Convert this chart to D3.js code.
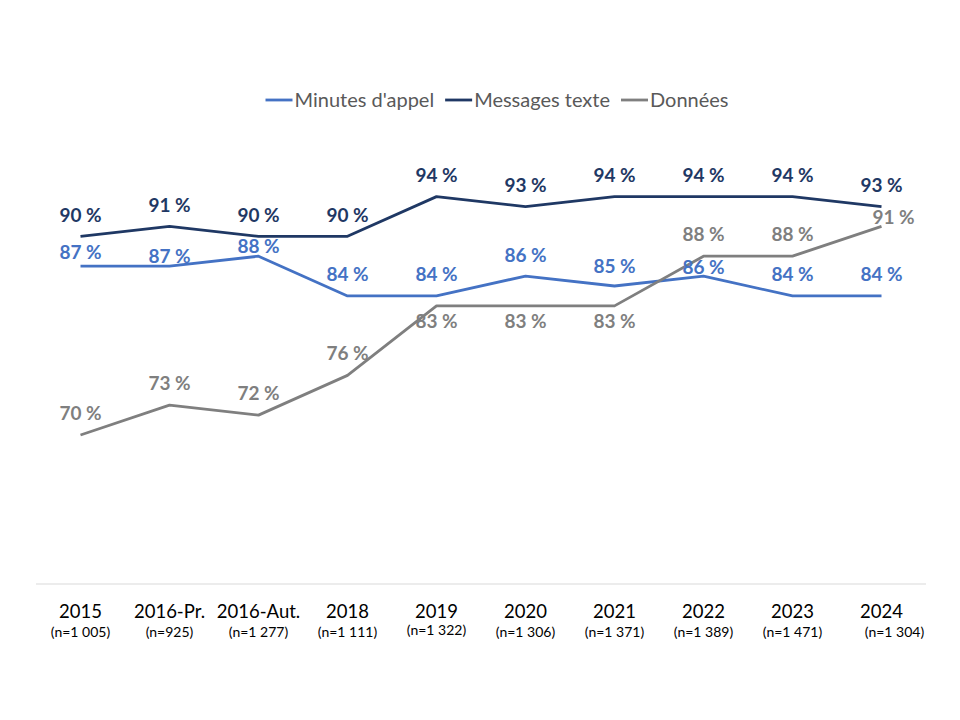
<!DOCTYPE html>
<html><head><meta charset="utf-8">
<script src="https://cdn.jsdelivr.net/npm/d3@7"></script>
<style>body{margin:0;background:#fff}svg{display:block}</style>
</head><body><svg id="c" width="960" height="720"></svg>
<script>
const categories = ["2015","2016-Pr.","2016-Aut.","2018","2019","2020","2021","2022","2023","2024"];
const sampleSizes = ["(n=1 005)","(n=925)","(n=1 277)","(n=1 111)","(n=1 322)","(n=1 306)","(n=1 371)","(n=1 389)","(n=1 471)","(n=1 304)"];
const minutesAppel = [87,87,88,84,84,86,85,86,84,84];
const messagesTexte = [90,91,90,90,94,93,94,94,94,93];
const donnees = [70,73,72,76,83,83,83,88,88,91];
const seriesNames = ["Minutes d'appel","Messages texte","Données"];

// label offsets (presentation only)
const minutesLabelDy = [-14,-10,-10,-22,-22,-21,-20,-9,-22,-22];
const donneesLabelDy = [-22,-22,-22,-22,15,15,15,-22,-22,-9];
const donneesLabelDx = [0,0,0,0,0,0,0,0,0,12];

const colors = ["#4472C4","#1F3864","#7F7F7F"];
const svg = d3.select("#c");
const font = "Lato, 'Open Sans', sans-serif";

const x = d3.scaleBand().domain(categories).range([36,926]);
const y = d3.scaleLinear().domain([55,100]).range([584,137]);
const cx = d => x(d) + x.bandwidth()/2;

// baseline
svg.append("line").attr("x1",36).attr("x2",926).attr("y1",y(55)).attr("y2",y(55))
  .attr("stroke","#D9D9D9").attr("stroke-width",1);

// x-axis labels
const xa = svg.append("g");
categories.forEach((c,i)=>{
  xa.append("text").attr("x",cx(c)).attr("y",618).attr("text-anchor","middle")
    .attr("font-family",font).attr("font-weight",400).attr("font-size",18.5).attr("fill","#000").text(c);
  const dx = i===9 ? 13 : 0;
  const dy = i===4 ? -2 : 0;
  xa.append("text").attr("x",cx(c)+dx).attr("y",637+dy).attr("text-anchor","middle")
    .attr("font-family",font).attr("font-weight",400).attr("font-size",14).attr("fill","#000").text(sampleSizes[i]);
});

const data = [minutesAppel, messagesTexte, donnees];
const line = d3.line().x((d,i)=>cx(categories[i])).y(d=>y(d));
data.forEach((vals,k)=>{
  svg.append("path").attr("d",line(vals)).attr("fill","none")
    .attr("stroke",colors[k]).attr("stroke-width",2.8).attr("stroke-linejoin","round");
});

function labels(vals,k,dys,dxs){
  svg.append("g").selectAll("text").data(vals).join("text")
    .attr("x",(d,i)=>cx(categories[i])+(dxs?dxs[i]:0))
    .attr("y",(d,i)=>y(d)+dys[i])
    .attr("dy","0.35em")
    .attr("text-anchor","middle").attr("font-family",font).attr("font-weight","bold")
    .attr("font-size",19).attr("fill",colors[k]).text(d=>d+" %");
}
labels(messagesTexte,1,messagesTexte.map(()=>-21));
labels(minutesAppel,0,minutesLabelDy);
labels(donnees,2,donneesLabelDy,donneesLabelDx);

// legend (laid out from measured text widths, centred)
const lg = svg.append("g");
const markerW = 27, markerGap = 2, itemGap = 11;
const items = seriesNames.map((n,k)=>{
  const g = lg.append("g");
  g.append("line").attr("x1",0).attr("x2",markerW).attr("y1",100).attr("y2",100)
    .attr("stroke",colors[k]).attr("stroke-width",2.8);
  const t = g.append("text").attr("x",markerW+markerGap).attr("y",100).attr("dy","0.35em")
    .attr("font-family",font).attr("font-weight",400).attr("font-size",20).attr("fill","#595959").text(n);
  return {g, w: markerW+markerGap+t.node().getComputedTextLength()};
});
const total = d3.sum(items,d=>d.w) + itemGap*(items.length-1);
let lx = 497 - total/2;
items.forEach(it=>{ it.g.attr("transform",`translate(${lx},0)`); lx += it.w + itemGap; });
</script></body></html>
